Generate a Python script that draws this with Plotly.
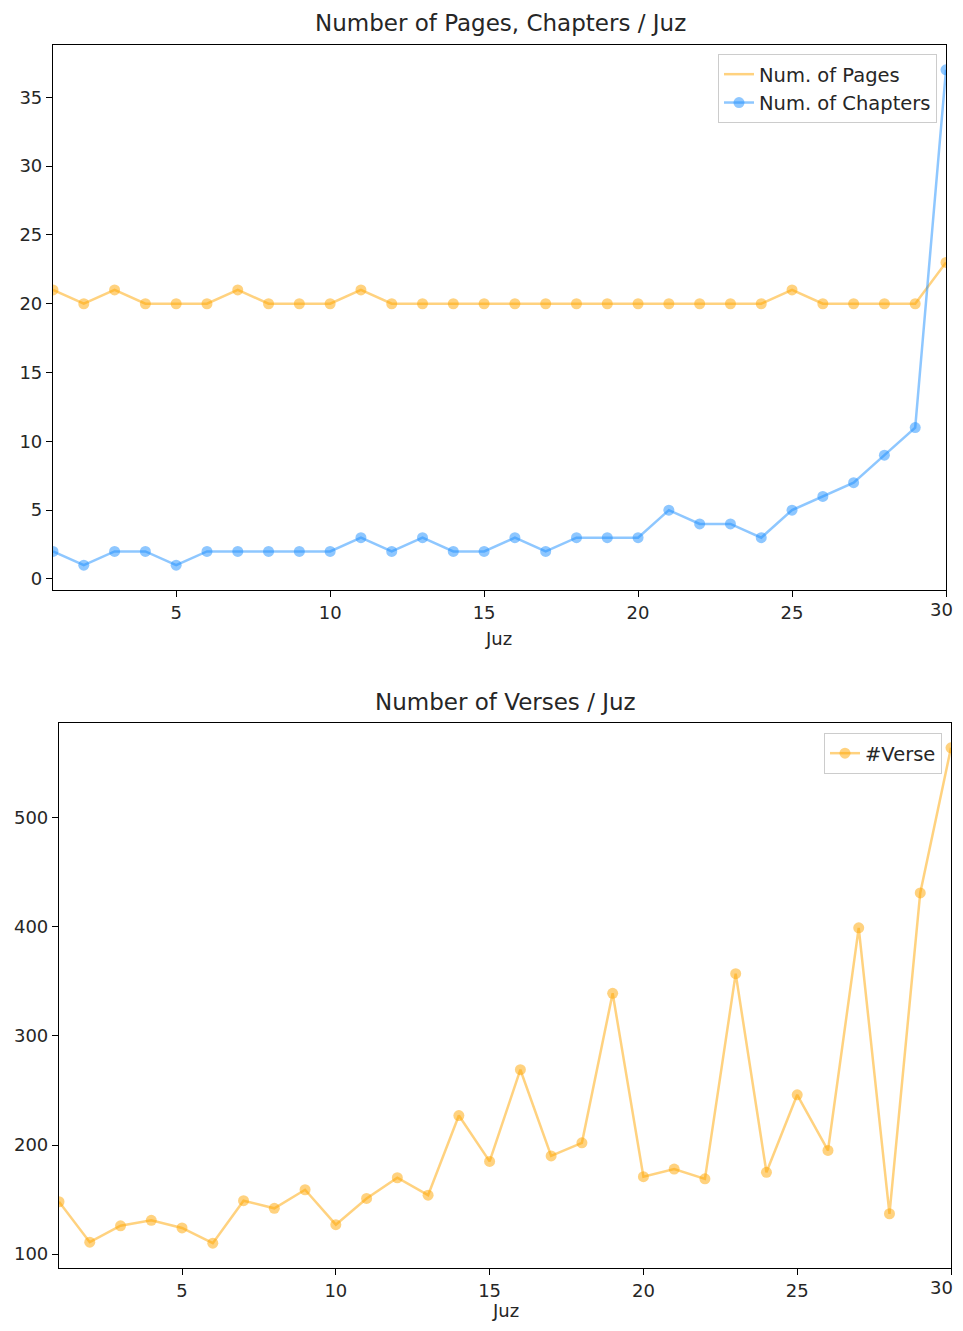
import plotly.graph_objects as go

juz = list(range(1, 31))
pages = [21, 20, 21, 20, 20, 20, 21, 20, 20, 20, 21, 20, 20, 20, 20,
         20, 20, 20, 20, 20, 20, 20, 20, 20, 21, 20, 20, 20, 20, 23]
chapters = [2, 1, 2, 2, 1, 2, 2, 2, 2, 2, 3, 2, 3, 2, 2,
            3, 2, 3, 3, 3, 5, 4, 4, 3, 5, 6, 7, 9, 11, 37]
verses = [148, 111, 126, 131, 124, 110, 149, 142, 159, 127, 151, 170, 154, 227, 185,
          269, 190, 202, 339, 171, 178, 169, 357, 175, 246, 195, 399, 137, 431, 564]
x_ticks = [5, 10, 15, 20, 25, 30]
x_ticktext = ["5", "10", "15", "20", "25", ""]  # last label drawn as annotation (stays inside page)
y1_ticks = [0, 5, 10, 15, 20, 25, 30, 35]
y2_ticks = [100, 200, 300, 400, 500]

OFF = 8  # page (body) margin around the plot div
W, H = 963 - 2 * OFF, 1331 - 2 * OFF
ORANGE = "rgba(255,165,0,0.5)"
BLUE = "rgba(30,144,255,0.5)"
FONT = "DejaVu Sans"
TXT = "#262626"

fig = go.Figure()

# top chart
fig.add_trace(go.Scatter(x=juz, y=pages, mode="lines+markers", name="Num. of Pages",
                         line=dict(color=ORANGE, width=2.5), marker=dict(color=ORANGE, size=11),
                         xaxis="x", yaxis="y", showlegend=False))
fig.add_trace(go.Scatter(x=[None], y=[None], mode="lines", name="Num. of Pages",
                         line=dict(color=ORANGE, width=2.5), xaxis="x", yaxis="y", legend="legend"))
fig.add_trace(go.Scatter(x=juz, y=chapters, mode="lines+markers", name="Num. of Chapters",
                         line=dict(color=BLUE, width=2.5), marker=dict(color=BLUE, size=11),
                         xaxis="x", yaxis="y", legend="legend"))

# bottom chart
fig.add_trace(go.Scatter(x=juz, y=verses, mode="lines+markers", name="#Verse",
                         line=dict(color=ORANGE, width=2.5), marker=dict(color=ORANGE, size=11),
                         xaxis="x2", yaxis="y2", legend="legend2"))

def px_x(a):
    return (a - OFF) / W

def px_y(a):
    return 1 - (a - OFF) / H

def px_dom_x(a, b):
    return [px_x(a), px_x(b)]

def px_dom_y(top, bottom):
    return [px_y(bottom), px_y(top)]

axis_common = dict(showline=True, linecolor="black", linewidth=1.2, mirror=True,
                   ticks="outside", ticklen=6, tickwidth=1.2, tickcolor="black", showgrid=False,
                   zeroline=False, tickfont=dict(family=FONT, size=18, color=TXT))

fig.update_layout(
    width=W, height=H,
    margin=dict(l=0, r=0, t=0, b=0),
    paper_bgcolor="white", plot_bgcolor="white",
    font=dict(family=FONT, size=18, color=TXT),
    xaxis=dict(domain=px_dom_x(53, 946), anchor="y", range=[1, 30],
               tickvals=x_ticks, ticktext=x_ticktext, **axis_common),
    yaxis=dict(domain=px_dom_y(45, 590), anchor="x", range=[-0.8, 38.8],
               tickvals=y1_ticks, **axis_common),
    xaxis2=dict(domain=px_dom_x(59, 951), anchor="y2", range=[1, 30],
                tickvals=x_ticks, ticktext=x_ticktext, **axis_common),
    yaxis2=dict(domain=px_dom_y(723, 1268), anchor="x2", range=[87.3, 586.7],
                tickvals=y2_ticks, **axis_common),
    legend=dict(x=px_x(937), y=px_y(54), xanchor="right", yanchor="top",
                bordercolor="#cccccc", borderwidth=1, bgcolor="rgba(255,255,255,0.8)",
                font=dict(family=FONT, size=19.5, color=TXT), tracegroupgap=0),
    legend2=dict(x=px_x(942), y=px_y(733), xanchor="right", yanchor="top",
                 bordercolor="#cccccc", borderwidth=1, bgcolor="rgba(255,255,255,0.8)",
                 font=dict(family=FONT, size=19.5, color=TXT)),
    annotations=[
        dict(text="Number of Pages, Chapters / Juz", x=px_x(500), y=px_y(23),
             xref="paper", yref="paper", showarrow=False, xanchor="center", yanchor="middle",
             font=dict(family=FONT, size=23, color=TXT)),
        dict(text="Juz", x=px_x(498), y=px_y(638), xref="paper", yref="paper",
             showarrow=False, xanchor="center", yanchor="middle",
             font=dict(family=FONT, size=18, color=TXT)),
        dict(text="Number of Verses / Juz", x=px_x(505), y=px_y(702),
             xref="paper", yref="paper", showarrow=False, xanchor="center", yanchor="middle",
             font=dict(family=FONT, size=23, color=TXT)),
        dict(text="Juz", x=px_x(505), y=0, xref="paper", yref="paper",
             showarrow=False, xanchor="center", yanchor="bottom",
             font=dict(family=FONT, size=18, color=TXT)),
        # last x tick label of each chart, kept inside the page
        dict(text=str(x_ticks[-1]), x=x_ticks[-1], xref="x", y=px_y(590), yref="paper",
             showarrow=False, xanchor="right", yanchor="top", xshift=9, yshift=-7,
             font=dict(family=FONT, size=18, color=TXT)),
        dict(text=str(x_ticks[-1]), x=x_ticks[-1], xref="x2", y=px_y(1268), yref="paper",
             showarrow=False, xanchor="right", yanchor="top", xshift=4, yshift=-7,
             font=dict(family=FONT, size=18, color=TXT)),
    ],
)

fig.write_html("out.html", config={"displayModeBar": False})
